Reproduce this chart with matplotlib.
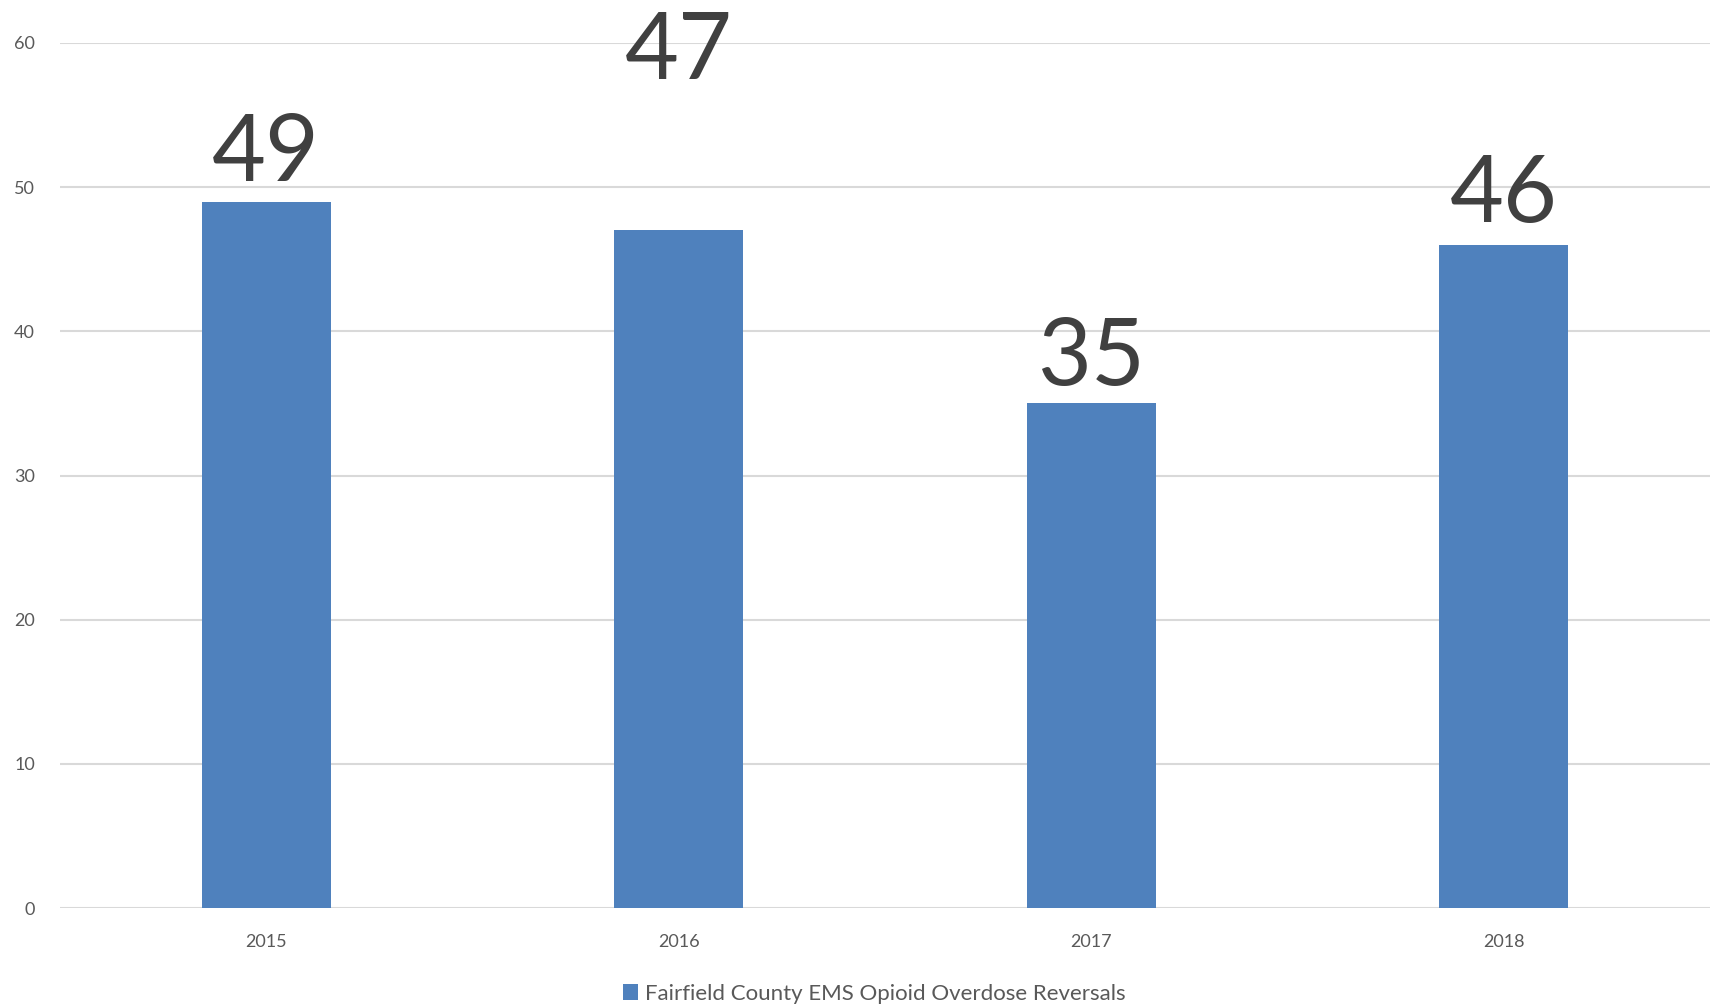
import matplotlib
matplotlib.use("Agg")
import matplotlib.pyplot as plt

years = ["2015", "2016", "2017", "2018"]
reversals = [49, 47, 35, 46]
# the 2016 label sits higher than the others in the original chart
label_offsets = [1.4, 10.5, 1.3, 1.6]
series_name = "Fairfield County EMS Opioid Overdose Reversals"
y_ticks = [0, 10, 20, 30, 40, 50, 60]

plt.rcParams['font.family'] = ['Lato', 'DejaVu Sans']

fig = plt.figure(figsize=(17.21, 10.07), dpi=100)
ax = fig.add_axes([0.0349, 0.0983, 0.9587, 0.859])

x = range(len(years))
bars = ax.bar(x, reversals, width=0.313, color="#4F81BD", label=series_name, zorder=3)

# big value labels above each bar
for rect, v, off in zip(bars, reversals, label_offsets):
    ax.text(rect.get_x() + rect.get_width() / 2, v + off, str(v),
            ha="center", va="baseline", fontsize=67, color="#404040", zorder=4,
            clip_on=False)

ax.set_xlim(-0.5, len(years) - 0.5)
ax.set_ylim(0, 60)
ax.set_yticks(y_ticks)
ax.set_xticks(list(x))
ax.set_xticklabels(years)
ax.tick_params(axis="both", length=0, labelsize=13, labelcolor="#595959")
ax.tick_params(axis="x", pad=19)
ax.tick_params(axis="y", pad=18)
for lbl in ax.get_yticklabels():
    lbl.set_horizontalalignment("right")

ax.grid(axis="y", color="#D9D9D9", linewidth=1.5, zorder=0)
for s in ax.spines.values():
    s.set_visible(False)

fig.legend(handles=[bars], labels=[series_name], loc="center", bbox_to_anchor=(0.508, 0.013),
           frameon=False, fontsize=16, handlelength=0.7, handleheight=0.7, handletextpad=0.3,
           labelcolor="#595959")

fig.savefig("out.png", dpi=100)
